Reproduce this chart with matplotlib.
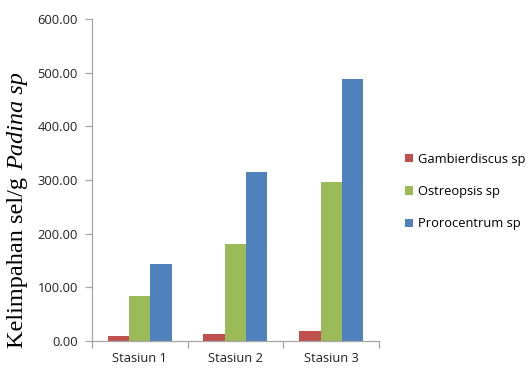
import matplotlib
matplotlib.use("Agg")
import matplotlib.pyplot as plt
import numpy as np

stations = ["Stasiun 1", "Stasiun 2", "Stasiun 3"]
series_names = ["Gambierdiscus sp", "Ostreopsis sp", "Prorocentrum sp"]
gambierdiscus = [9.4, 12.5, 18.7]
ostreopsis = [84.0, 180.0, 296.0]
prorocentrum = [143.0, 315.0, 488.0]
yticks = [0, 100, 200, 300, 400, 500, 600]

colors = ["#C0504D", "#9BBB59", "#4F81BD"]
axis_grey = "#A6A6A6"
sans = ["Open Sans", "DejaVu Sans"]

W, H = 528, 371
fig = plt.figure(figsize=(W / 100, H / 100), dpi=100)
ax = fig.add_axes([0.1737, 0.0817, 0.5443, 0.8663])

x = np.arange(len(stations))
w = 1 / 4.5
for i, (vals, name, c) in enumerate(zip([gambierdiscus, ostreopsis, prorocentrum], series_names, colors)):
    ax.bar(x + (i - 1) * w, vals, width=w, color=c, label=name, zorder=2)

ax.set_xlim(-0.5, len(stations) - 0.5)
ax.set_ylim(0, 600)
ax.set_yticks(yticks)
ax.set_yticklabels([f"{v:.2f}" for v in yticks])
ax.set_xticks(x)
ax.set_xticklabels(stations)
ax.set_xticks(np.arange(len(stations) + 1) - 0.5, minor=True)

for s in ["top", "right"]:
    ax.spines[s].set_visible(False)
for s in ["left", "bottom"]:
    ax.spines[s].set_color(axis_grey)
    ax.spines[s].set_linewidth(0.9)

ax.tick_params(axis="y", direction="out", length=5, color=axis_grey, width=0.9, pad=5)
ax.tick_params(axis="x", which="major", length=0, pad=8)
ax.tick_params(axis="x", which="minor", direction="out", length=5, color=axis_grey, width=0.9)
for lbl in ax.get_xticklabels() + ax.get_yticklabels():
    lbl.set_fontfamily(sans)
    lbl.set_fontsize(9.3)
    lbl.set_color("#222222")

# y-axis title: upright text followed by the italic genus name, placed end to end
renderer = fig.canvas.get_renderer()
y_start, y_end = 348, 72          # pixel rows spanned by the title
xc = 18 / W
gap_em = 0.3


def place_title(size):
    a = fig.text(xc, 1 - y_start / H, "Kelimpahan sel/g", rotation=90,
                 family="Liberation Serif", fontsize=size, ha="center", va="bottom")
    bb = a.get_window_extent(renderer)
    b = fig.text(xc, (bb.y1 + gap_em * size * 100 / 72) / H, "Padina sp", rotation=90,
                 family="Liberation Serif", style="italic", fontsize=size,
                 ha="center", va="bottom")
    return a, b


size = 14.5
t1, t2 = place_title(size)
span = t2.get_window_extent(renderer).y1 - t1.get_window_extent(renderer).y0
t1.remove()
t2.remove()
size = size * (y_start - y_end) / span
t1, t2 = place_title(size)

leg = fig.legend(loc="center left", bbox_to_anchor=(405 / W, 1 - 191.5 / H), frameon=False,
                 prop={"family": sans, "size": 9.3}, borderpad=0, borderaxespad=0,
                 handlelength=0.62, handleheight=0.62, handletextpad=0.4,
                 labelspacing=1.5)

fig.savefig("out.png", dpi=100)
